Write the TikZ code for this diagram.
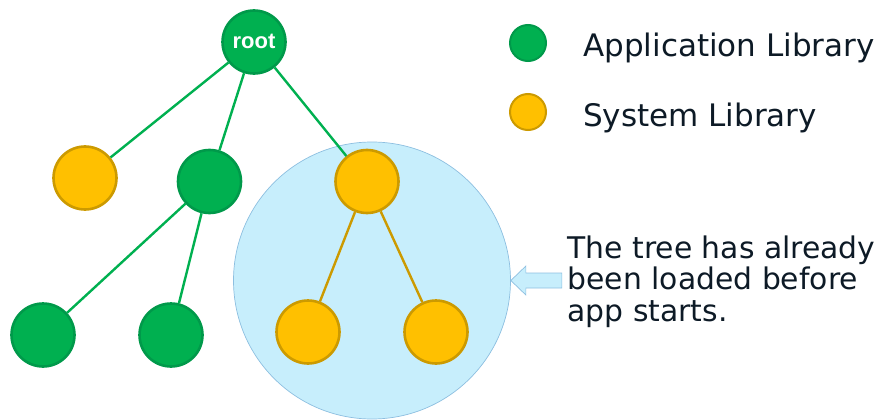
\documentclass[tikz,border=0pt]{standalone}
\usepackage{fontspec}
\setmainfont{DejaVu Sans}
\newfontfamily\rootfont{Liberation Sans}
\definecolor{appgreen}{HTML}{00B050}
\definecolor{appgreenb}{HTML}{00994A}
\definecolor{sysyellow}{HTML}{FFC000}
\definecolor{sysyellowb}{HTML}{CC9A00}
\definecolor{lightblue}{HTML}{C7EEFC}
\definecolor{lightblueb}{HTML}{8DBFE0}
\definecolor{textcol}{HTML}{0D1A26}
\tikzset{
  appnode/.style={circle, fill=appgreen, draw=appgreenb, line width=2.6pt, minimum size=63pt, inner sep=0pt},
  sysnode/.style={circle, fill=sysyellow, draw=sysyellowb, line width=2.6pt, minimum size=63pt, inner sep=0pt},
  legapp/.style={circle, fill=appgreen, draw=appgreenb, line width=2pt, minimum size=36pt, inner sep=0pt},
  legsys/.style={circle, fill=sysyellow, draw=sysyellowb, line width=2pt, minimum size=36pt, inner sep=0pt},
  greenedge/.style={draw=appgreen, line width=2.4pt},
  goldedge/.style={draw=sysyellowb, line width=2.4pt},
  legtext/.style={anchor=base west, inner sep=0pt, text=textcol, font=\fontsize{31}{37}\selectfont},
  notetext/.style={anchor=north west, inner sep=0pt, text=textcol, align=left, font=\fontsize{29.8}{31.5}\selectfont},
  blockarrow/.style={fill=lightblue, draw=lightblueb, line width=0.7pt, line join=miter},
}
\begin{document}
\begin{tikzpicture}[x=1pt,y=-1pt]
\useasboundingbox (0,0) rectangle (878,420);
% highlight circle
\node[circle, fill=lightblue, draw=lightblueb, line width=0.7pt, minimum size=277pt, inner sep=0pt] (hl) at (372,280.5) {};
% tree nodes
\node[appnode] (root) at (254,42) {};
\node[sysnode] (ly) at (85,178) {};
\node[appnode] (mg) at (209.5,181.5) {};
\node[sysnode] (ty) at (367,181.5) {};
\node[appnode] (bg1) at (43,335) {};
\node[appnode] (bg2) at (171,335) {};
\node[sysnode] (by1) at (308,332) {};
\node[sysnode] (by2) at (436,332) {};
% edges
\draw[greenedge] (root) -- (ly);
\draw[greenedge] (root) -- (mg);
\draw[greenedge] (root) -- (ty);
\draw[greenedge] (mg) -- (bg1);
\draw[greenedge] (mg) -- (bg2);
\draw[goldedge] (ty) -- (by1);
\draw[goldedge] (ty) -- (by2);
% root label
\node[text=white, font=\rootfont\bfseries\fontsize{22}{25}\selectfont] (rootlbl) at ([yshift=1pt]root.center) {root};
% legend
\node[legapp] (la) at (528,43) {};
\node[legsys] (ls) at (528,112) {};
\node[legtext] (lat) at (583,56.7) {Application Library};
\node[legtext] (lst) at (583,126) {System Library};
% annotation
\node[notetext] (note) at (567.5,235.2) {The tree has already\\been loaded before\\app starts.};
\coordinate (tip) at (hl.east);
\draw[blockarrow] (tip) -- ++(15,-14.5) -- ++(0,7) -- ++(36,0) -- ++(0,15) -- ++(-36,0) -- ++(0,7) -- cycle;
\end{tikzpicture}
\end{document}
